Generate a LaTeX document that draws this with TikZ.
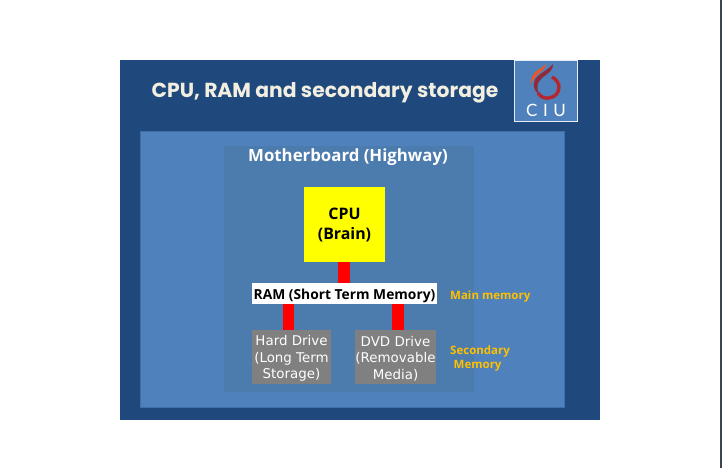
\documentclass[tikz,border=0pt]{standalone}
\usepackage{fontspec}
\setmainfont{DejaVu Sans}
\newfontfamily\titlefont{Poppins}
\newfontfamily\semifont{Open Sans}
\newfontfamily\logofont{Lato}
\usetikzlibrary{calc}
\definecolor{slidebg}{HTML}{1F497D}
\definecolor{panelbg}{HTML}{4F81BD}
\definecolor{panelline}{HTML}{3F6FA8}
\definecolor{boardbg}{HTML}{4C7BAD}
\definecolor{drivegray}{HTML}{808080}
\definecolor{labelgold}{HTML}{FFC000}
\definecolor{titlecream}{HTML}{F2EEE0}
\definecolor{edgeline}{HTML}{3A4550}
\definecolor{logofire}{HTML}{E8562A}
\definecolor{logored}{HTML}{B5272D}
\definecolor{logodark}{HTML}{8E2A3A}
\definecolor{cpuyellow}{HTML}{FFFF00}
\newcommand{\lowerstrut}{\rule{0pt}{15.5pt}}
\newcommand{\drivestrut}{\rule{0pt}{13pt}}
\tikzset{
  x=1pt,y=-1pt,
  block/.style={inner sep=0pt,outer sep=0pt,anchor=north west,align=center},
  drive/.style={block,fill=drivegray,text=white,font=\fontsize{13.4}{16.5}\selectfont,minimum height=54pt},
  bus/.style={draw=red,line width=11.5pt},
  side/.style={text=labelgold,font=\semifont\bfseries\fontsize{11.5}{14}\selectfont,anchor=west,inner sep=0pt,align=left},
}
\begin{document}
\begin{tikzpicture}
\useasboundingbox (0,0) rectangle (722,468);
\fill[white] (0,0) rectangle (722,468);
\fill[edgeline] (720,0) rectangle (722,468);
\node[block,fill=slidebg,minimum width=480pt,minimum height=360pt] (slide) at (120,60) {};
\node[block,fill=panelbg,draw=panelline,line width=1pt,minimum width=424pt,minimum height=276pt] (panel) at (140,131) {};
\node[block,fill=boardbg,minimum width=250pt,minimum height=246pt] (board) at (224,146) {};
\node[anchor=center,inner sep=0pt,text=titlecream,font=\titlefont\bfseries\fontsize{20.3}{24}\selectfont] (title) at (325,93) {CPU, RAM and secondary storage};
% logo
\node[block,fill=panelbg,draw=white!85!panelbg,line width=0.8pt,minimum width=63pt,minimum height=61pt] (logo) at (514,60) {};
\node[anchor=center,inner sep=0pt,text=white,font=\logofont\fontsize{17}{18}\selectfont] (logotext) at (546,110) {C\,\,I\,\,U};
\draw[logored,line width=3.4pt] (538,93) .. controls (541,98) and (546,98.5) .. (549,98) .. controls (556,97) and (559,92) .. (559,87) .. controls (559,83) and (556,79) .. (552,77);
\fill[logodark] (553,64) .. controls (554,70) and (547,74) .. (542,78) .. controls (537,82) and (536,88) .. (539,94) .. controls (532,90) and (532,81) .. (538,76) .. controls (544,71) and (549,69) .. (553,64) -- cycle;
\fill[logofire] (546,64) .. controls (546,70) and (538,72) .. (534,79) .. controls (532,81) and (531,83) .. (531,87) .. controls (530,78) and (533,73) .. (538,70) .. controls (541,68) and (544,66) .. (546,64) -- cycle;
% board
\node[anchor=center,inner sep=0pt,text=white,font=\semifont\bfseries\fontsize{16.8}{18}\selectfont] (boardtitle) at (348,157) {Motherboard (Highway)};
\node[block,fill=cpuyellow,text=black,font=\semifont\bfseries\fontsize{15.9}{20}\selectfont,minimum width=81pt,minimum height=75pt] (cpu) at (304,187) {CPU\\(Brain)};
\node[block,fill=white,text=black,font=\semifont\bfseries\fontsize{13.8}{15}\selectfont,minimum width=185pt,minimum height=21pt] (ram) at (252,283) {\lowerstrut RAM (Short Term Memory)};
\node[drive,minimum width=79pt] (hd) at (252,330) {\drivestrut Hard Drive\\(Long Term\\Storage)};
\node[drive,minimum width=81pt] (dvd) at (355,330) {\drivestrut DVD Drive\\(Removable\\Media)};
\coordinate (cpubus) at (344,270);
\coordinate (hdbus) at (288.5,317);
\coordinate (dvdbus) at (398,317);
\draw[bus] (cpu.south -| cpubus) -- (ram.north -| cpubus);
\draw[bus] (ram.south -| hdbus) -- (hd.north -| hdbus);
\draw[bus] (ram.south -| dvdbus) -- (dvd.north -| dvdbus);
\node[side] (mainmem) at (450,297) {Main memory};
\node[side] (secmem) at (450,358.5) {Secondary\\\hspace*{3.5pt}Memory};
\end{tikzpicture}
\end{document}
